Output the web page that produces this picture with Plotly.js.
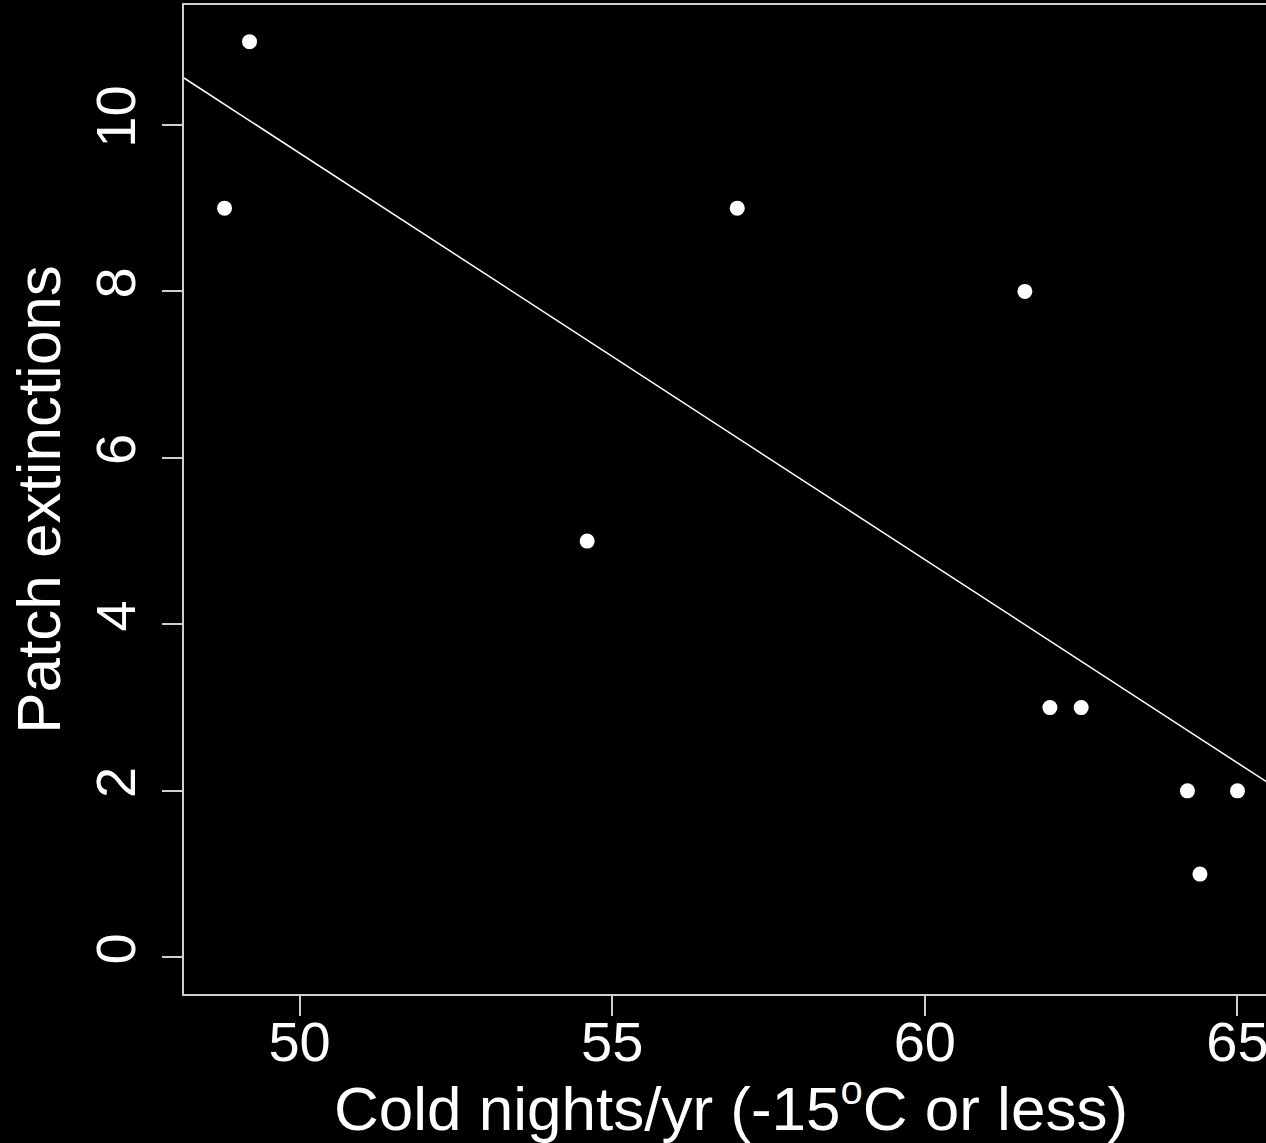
<!DOCTYPE html>
<html>
<head>
<meta charset="utf-8">
<script src="https://cdn.plot.ly/plotly-3.0.1.min.js"></script>
<style>
html, body { margin: 0; padding: 0; background: #000; overflow: hidden; }
#chart { width: 1290px; height: 1143px; }
</style>
</head>
<body>
<div id="chart"></div>
<script>
// Data
const coldNights = [48.8, 49.2, 54.6, 57.0, 61.6, 62.0, 62.5, 64.2, 64.4, 65.0];
const patchExtinctions = [9, 11, 5, 9, 8, 3, 3, 2, 1, 2];
const xTicks = [50, 55, 60, 65];
const yTicks = [0, 2, 4, 6, 8, 10];
const xRange = [48.152, 65.648];
const yRange = [-0.44, 11.44];

// Least-squares fit (abline of lm)
const n = coldNights.length;
const mx = coldNights.reduce((a, b) => a + b, 0) / n;
const my = patchExtinctions.reduce((a, b) => a + b, 0) / n;
let sxy = 0, sxx = 0;
for (let i = 0; i < n; i++) {
  sxy += (coldNights[i] - mx) * (patchExtinctions[i] - my);
  sxx += (coldNights[i] - mx) ** 2;
}
const slope = sxy / sxx;
const intercept = my - slope * mx;
const fitX = xRange.slice();
const fitY = fitX.map(x => intercept + slope * x);

const font = "Liberation Sans, Arial, sans-serif";

const traces = [
  {
    x: fitX, y: fitY, type: 'scatter', mode: 'lines',
    line: { color: '#ffffff', width: 1.5 }, hoverinfo: 'skip'
  },
  {
    x: coldNights, y: patchExtinctions, type: 'scatter', mode: 'markers',
    marker: { color: '#ffffff', size: 15 }
  }
];

const axisCommon = {
  showgrid: false, zeroline: false,
  showline: true, linecolor: '#cfcfcf', linewidth: 2, mirror: true,
  ticks: 'outside', ticklen: 20, tickwidth: 2, tickcolor: '#cfcfcf',
  tickfont: { family: font, size: 56, color: '#ffffff' },
  tickmode: 'array'
};

const layout = {
  width: 1290, height: 1143,
  paper_bgcolor: '#000000', plot_bgcolor: '#000000',
  margin: { l: 184, r: 12, t: 5, b: 149 },
  showlegend: false,
  xaxis: Object.assign({}, axisCommon, {
    range: xRange, tickvals: xTicks, ticktext: xTicks.map(String),
    ticklabelstandoff: -22,
    title: { text: 'Cold nights/yr (-15<sup><span style="font-size:40px">o</span></sup>C or less)', font: { family: font, size: 62, color: '#ffffff' }, standoff: 28 }
  }),
  yaxis: Object.assign({}, axisCommon, {
    range: yRange, tickvals: yTicks, ticktext: yTicks.map(String), tickangle: -90,
    ticklabelstandoff: 5,
    title: { text: 'Patch extinctions', font: { family: font, size: 62, color: '#ffffff' }, standoff: 3 }
  })
};

Plotly.newPlot('chart', traces, layout, { displayModeBar: false, staticPlot: true });
</script>
</body>
</html>
